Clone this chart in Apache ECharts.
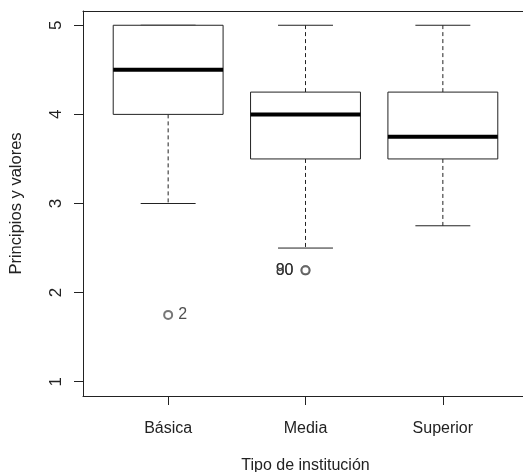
<!DOCTYPE html>
<html>
<head>
<meta charset="utf-8">
<script src="https://cdn.jsdelivr.net/npm/echarts@6/dist/echarts.min.js"></script>
<style>
  html, body { margin: 0; padding: 0; background: #fff; }
  #chart { width: 523px; height: 472px; }
</style>
</head>
<body>
<div id="chart"></div>
<script>
// box statistics per group (R boxplot style)
const categories = ['Básica', 'Media', 'Superior'];
const positions = [1, 2, 3];
const lowWhisker = [3, 2.5, 2.75];
const q1 = [4, 3.5, 3.5];
const medians = [4.5, 4, 3.75];
const q3 = [5, 4.25, 4.25];
const highWhisker = [5, 5, 5];

// outliers and their labels
const outlierX = [1, 2, 2];
const outlierY = [1.75, 2.25, 2.25];
const outlierLabels = ['2', '80', '90'];

const yTicks = [1, 2, 3, 4, 5];

const font = "'Liberation Sans', Arial, sans-serif";
const fontSize = 16;
const textColor = '#222';

const boxData = positions.map((p, i) => [p, lowWhisker[i], q1[i], medians[i], q3[i], highWhisker[i]]);
const outlierData = outlierX.map((x, i) => ({ value: [x, outlierY[i]], label: outlierLabels[i] }));

function renderBox(params, api) {
  const x = api.value(0);
  const bw = api.size([0.8, 0])[0];
  const cw = bw / 2;
  const cx = api.coord([x, 0])[0];
  const yLo = api.coord([x, api.value(1)])[1];
  const yQ1 = api.coord([x, api.value(2)])[1];
  const yMed = api.coord([x, api.value(3)])[1];
  const yQ3 = api.coord([x, api.value(4)])[1];
  const yHi = api.coord([x, api.value(5)])[1];
  const line = { stroke: '#222', lineWidth: 1 };
  const dashed = { stroke: '#222', lineWidth: 1, lineDash: [4, 3] };
  return {
    type: 'group',
    children: [
      { type: 'line', shape: { x1: cx, y1: yQ3, x2: cx, y2: yHi }, style: dashed },
      { type: 'line', shape: { x1: cx, y1: yQ1, x2: cx, y2: yLo }, style: dashed },
      { type: 'line', shape: { x1: cx - cw / 2, y1: yHi, x2: cx + cw / 2, y2: yHi }, style: line },
      { type: 'line', shape: { x1: cx - cw / 2, y1: yLo, x2: cx + cw / 2, y2: yLo }, style: line },
      { type: 'rect', shape: { x: cx - bw / 2, y: yQ3, width: bw, height: yQ1 - yQ3 }, style: { fill: '#fff', stroke: '#222', lineWidth: 1 } },
      { type: 'line', shape: { x1: cx - bw / 2, y1: yMed, x2: cx + bw / 2, y2: yMed }, style: { stroke: '#000', lineWidth: 4 } }
    ]
  };
}

const chart = echarts.init(document.getElementById('chart'));
chart.setOption({
  animation: false,
  backgroundColor: '#fff',
  grid: {
    left: 83, top: 11, width: 445, bottom: 76,
    containLabel: false, outerBoundsMode: 'none'
  },
  xAxis: [
    {
      type: 'value',
      min: 0.38,
      max: 3.62,
      name: 'Tipo de institución',
      nameLocation: 'middle',
      nameGap: 62,
      nameTextStyle: { fontFamily: font, fontSize: fontSize, color: textColor },
      splitLine: { show: false },
      axisLine: { show: true, lineStyle: { color: '#222' } },
      axisTick: { show: true, length: 9, customValues: positions, lineStyle: { color: '#222' } },
      axisLabel: {
        customValues: positions,
        margin: 25,
        fontFamily: font, fontSize: fontSize, color: textColor,
        formatter: v => categories[Math.round(v) - 1] || ''
      }
    },
    {
      // top edge of the plot frame
      type: 'value',
      position: 'top',
      min: 0.38,
      max: 3.62,
      splitLine: { show: false },
      axisLine: { show: true, lineStyle: { color: '#222' } },
      axisTick: { show: false },
      axisLabel: { show: false }
    }
  ],
  yAxis: {
    type: 'value',
    min: 0.84,
    max: 5.16,
    name: 'Principios y valores',
    nameLocation: 'middle',
    nameGap: 58,
    nameTextStyle: { fontFamily: font, fontSize: 16.5, color: textColor },
    splitLine: { show: false },
    axisLine: { show: true, lineStyle: { color: '#222' } },
    axisTick: { show: true, length: 9, customValues: yTicks, lineStyle: { color: '#222' } },
    axisLabel: {
      customValues: yTicks,
      rotate: 90,
      margin: 18,
      fontFamily: font, fontSize: 17, color: textColor
    }
  },
  series: [
    {
      type: 'custom',
      renderItem: renderBox,
      data: boxData,
      encode: { x: 0, y: [1, 2, 3, 4, 5] },
      z: 2
    },
    {
      type: 'scatter',
      data: outlierData.map(d => ({
        value: d.value,
        label: {
          show: true,
          formatter: d.label,
          position: d.label === '2' ? 'right' : 'left',
          distance: d.label === '2' ? 5 : 7
        }
      })),
      symbol: 'emptyCircle',
      symbolSize: 8,
      itemStyle: { color: '#555', borderWidth: 1 },
      label: { fontFamily: font, fontSize: fontSize, color: textColor },
      z: 3
    }
  ]
});
</script>
</body>
</html>
